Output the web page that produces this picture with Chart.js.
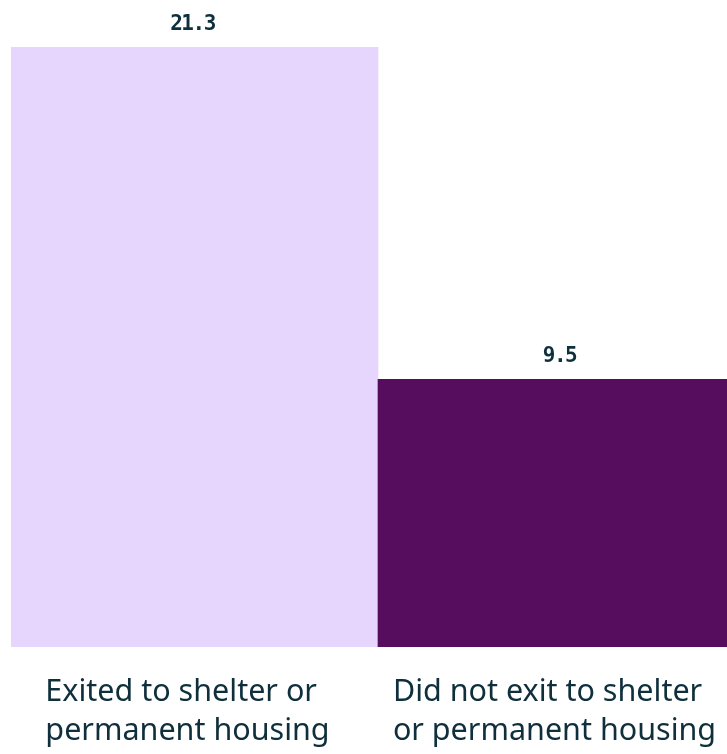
<!DOCTYPE html>
<html>
<head>
<meta charset="utf-8">
<script src="https://cdn.jsdelivr.net/npm/chart.js@4/dist/chart.umd.min.js"></script>
<style>
  html, body { margin: 0; padding: 0; background: #ffffff; overflow: hidden; }
  #wrap { width: 745px; height: 754px; }
</style>
</head>
<body>
<div id="wrap"><canvas id="chart" width="745" height="754"></canvas></div>
<script>
// Average length of stay, by exit outcome
const categories = [
  ["Exited to shelter or", "permanent housing"],
  ["Did not exit to shelter", "or permanent housing"]
];
const values = [21.3, 9.5];
const barColors = ["#e6d5fd", "#560d5e"];

const TEXT = "#0e2f3b";

// Value labels above each bar
const valueLabels = {
  id: "valueLabels",
  afterDatasetsDraw(chart) {
    const ctx = chart.ctx;
    const meta = chart.getDatasetMeta(0);
    ctx.save();
    ctx.font = "bold 21px 'DejaVu Sans Mono'";
    ctx.letterSpacing = "-1.5px";
    ctx.fillStyle = TEXT;
    ctx.textAlign = "center";
    ctx.textBaseline = "alphabetic";
    meta.data.forEach((bar, i) => {
      ctx.fillText(values[i].toFixed(1), bar.x - 2, bar.y - 17);
    });
    ctx.restore();
  }
};

// Category labels under the bars: two lines, left-aligned as a block
const categoryLabels = {
  id: "categoryLabels",
  afterDraw(chart) {
    const ctx = chart.ctx;
    const xs = chart.scales.x;
    const base = chart.chartArea.bottom;
    ctx.save();
    ctx.font = "30.5px 'Noto Sans'";
    ctx.fillStyle = TEXT;
    ctx.textAlign = "left";
    ctx.textBaseline = "alphabetic";
    categories.forEach((lines, i) => {
      const w = Math.max(...lines.map(l => ctx.measureText(l).width));
      const left = xs.getPixelForValue(i) - w / 2 - 7;
      lines.forEach((line, j) => {
        ctx.fillText(line, left, base + 54 + j * 39);
      });
    });
    ctx.restore();
  }
};

new Chart(document.getElementById("chart"), {
  type: "bar",
  data: {
    labels: categories,
    datasets: [{
      data: values,
      backgroundColor: barColors,
      borderWidth: 0,
      categoryPercentage: 1,
      barPercentage: 1
    }]
  },
  options: {
    responsive: false,
    animation: false,
    layout: { padding: { left: 11, right: 0, top: 47, bottom: 107 } },
    plugins: { legend: { display: false }, tooltip: { enabled: false } },
    scales: {
      x: { display: false },
      y: { display: false, min: 0, max: 21.3 }
    }
  },
  plugins: [valueLabels, categoryLabels]
});
</script>
</body>
</html>
